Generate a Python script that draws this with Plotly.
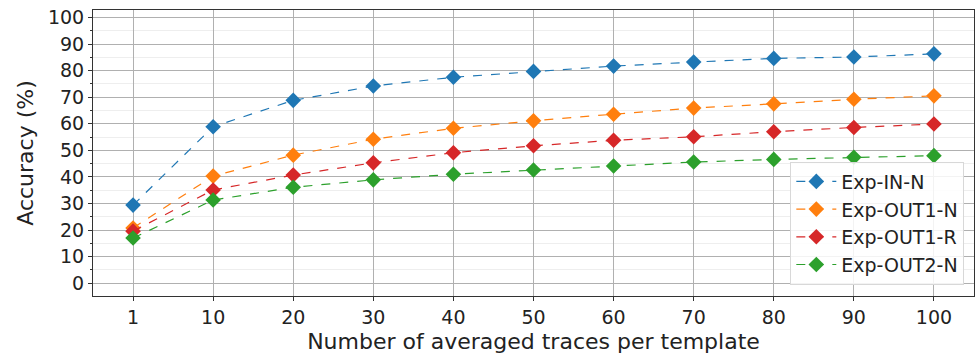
import plotly.graph_objects as go

x_labels = ["1", "10", "20", "30", "40", "50", "60", "70", "80", "90", "100"]
exp_in_n = [29.4, 58.9, 68.8, 74.2, 77.5, 79.7, 81.7, 83.2, 84.6, 85.1, 86.3]
exp_out1_n = [20.8, 40.3, 48.2, 54.2, 58.3, 61.1, 63.6, 65.9, 67.5, 69.2, 70.5]
exp_out1_r = [19.6, 35.1, 40.7, 45.3, 49.1, 51.7, 53.8, 55.1, 57.0, 58.6, 59.9]
exp_out2_n = [17.0, 31.3, 36.1, 38.9, 41.0, 42.6, 44.1, 45.6, 46.6, 47.4, 48.0]

names = ["Exp-IN-N", "Exp-OUT1-N", "Exp-OUT1-R", "Exp-OUT2-N"]
series = [exp_in_n, exp_out1_n, exp_out1_r, exp_out2_n]
colors = ["#1f77b4", "#ff7f0e", "#d62728", "#2ca02c"]

xi = list(range(len(x_labels)))
fig = go.Figure()
for name, ys, c in zip(names, series, colors):
    fig.add_trace(go.Scatter(
        x=xi, y=ys, name=name, mode="lines+markers",
        line=dict(color=c, width=1.2, dash="dash"),
        marker=dict(symbol="diamond", size=12, color=c),
    ))

font = "DejaVu Sans, sans-serif"
fig.update_layout(
    width=976, height=360,
    margin=dict(l=93, r=2, t=10, b=64),
    paper_bgcolor="white", plot_bgcolor="white",
    font=dict(family=font, size=19, color="#222"),
    showlegend=True,
    legend=dict(
        x=0.989, y=0.04, xanchor="right", yanchor="bottom",
        bgcolor="rgba(255,255,255,0.85)", bordercolor="#d8d8d8", borderwidth=1,
        font=dict(family=font, size=19, color="#222"),
        tracegroupgap=0, itemwidth=40,
    ),
    xaxis=dict(
        tickmode="array", tickvals=xi, ticktext=x_labels,
        range=[-0.5, 10.5],
        showgrid=True, gridcolor="#b0b0b0", gridwidth=1,
        ticks="outside", ticklen=4, tickcolor="#333",
        showline=True, linecolor="#333", linewidth=1, mirror=True,
        zeroline=False,
        title=dict(text="Number of averaged traces per template", font=dict(size=22), standoff=6),
        tickfont=dict(size=19),
    ),
    yaxis=dict(
        range=[-4.8, 102.8],
        tickmode="linear", tick0=0, dtick=10,
        showgrid=True, gridcolor="#b0b0b0", gridwidth=1,
        ticks="outside", ticklen=4, tickcolor="#333",
        showline=True, linecolor="#333", linewidth=1, mirror=True,
        zeroline=False,
        minor=dict(dtick=5, tick0=0, showgrid=True, gridcolor="#eeeeee", gridwidth=1,
                   ticks="outside", ticklen=2, tickcolor="#333"),
        title=dict(text="Accuracy (%)", font=dict(size=22), standoff=8),
        tickfont=dict(size=19),
    ),
)

fig.write_html("out.html")
